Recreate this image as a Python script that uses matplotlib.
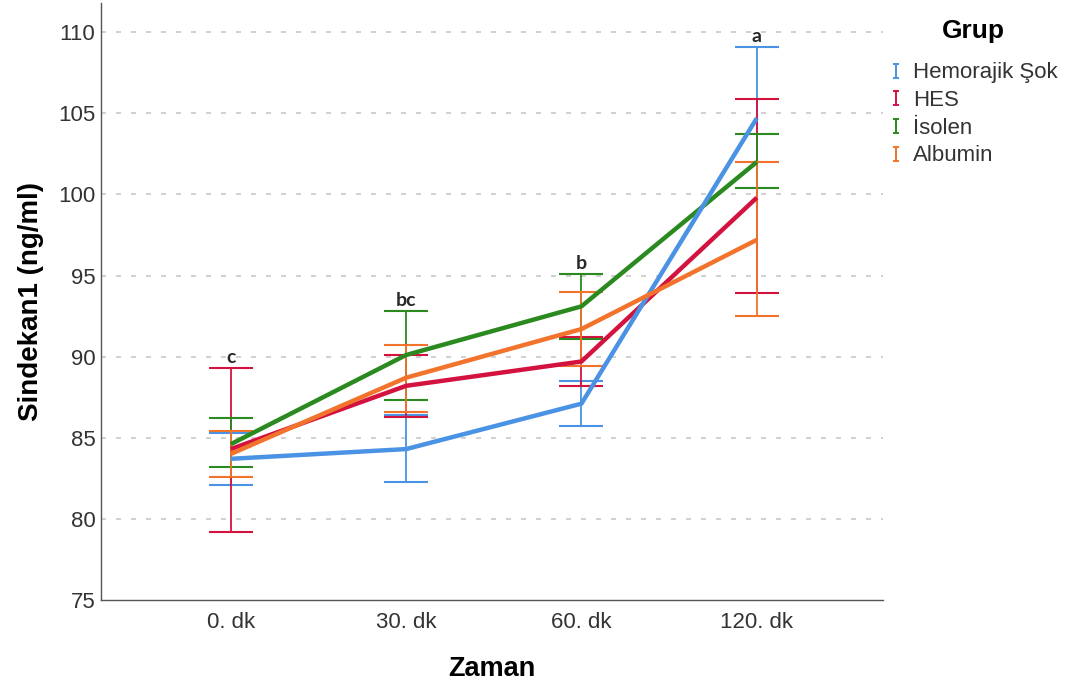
import matplotlib
matplotlib.use('Agg')
import matplotlib.pyplot as plt
from matplotlib.lines import Line2D
from matplotlib.path import Path
import numpy as np

# data
times = ['0. dk', '30. dk', '60. dk', '120. dk']
groups = ['Hemorajik Şok', 'HES', 'İsolen', 'Albumin']
colors = ['#4a92e4', '#d3123f', '#2b8a1f', '#f2732b']

sok_mean = [83.7, 84.3, 87.1, 104.7]
sok_low = [82.1, 82.3, 85.7, 100.4]
sok_high = [85.3, 86.4, 88.5, 109.1]

hes_mean = [84.3, 88.2, 89.7, 99.8]
hes_low = [79.2, 86.3, 88.2, 93.9]
hes_high = [89.3, 90.1, 91.2, 105.9]

iso_mean = [84.6, 90.1, 93.1, 102.0]
iso_low = [83.2, 87.3, 91.1, 100.4]
iso_high = [86.2, 92.8, 95.1, 103.7]

alb_mean = [84.0, 88.7, 91.7, 97.2]
alb_low = [82.6, 86.6, 89.4, 92.5]
alb_high = [85.4, 90.7, 94.0, 102.0]

letters = ['c', 'bc', 'b', 'a']

means = [sok_mean, hes_mean, iso_mean, alb_mean]
lows = [sok_low, hes_low, iso_low, alb_low]
highs = [sok_high, hes_high, iso_high, alb_high]

plt.rcParams['font.family'] = ['Liberation Sans', 'DejaVu Sans']

fig = plt.figure(figsize=(10.71, 6.88), dpi=100)
ax = fig.add_axes([0.0943, 0.128, 0.7302, 0.8676])

x = np.arange(len(times))
zorders = [5, 3, 4, 6]
for i, g in enumerate(groups):
    m = np.array(means[i])
    lo = np.array(lows[i])
    hi = np.array(highs[i])
    ax.errorbar(x, m, yerr=[m - lo, hi - m], fmt='none', ecolor=colors[i],
                elinewidth=1.3, capsize=15.5, capthick=1.5, zorder=2)
    ax.plot(x, m, color=colors[i], lw=3.2, zorder=zorders[i],
            solid_capstyle='butt')

# significance letters above the highest bar at each time
tops = np.max(np.array(highs), axis=0)
for xi, t, lab in zip(x, tops, letters):
    ax.annotate(lab, (xi, t), xytext=(0, 1.5), textcoords='offset points',
                ha='center', va='bottom', fontsize=14, fontweight='bold',
                color='#2a2a2a', family=['Lato', 'DejaVu Sans'])

ax.set_xlim(-0.74, 3.72)
ax.set_ylim(75, 111.8)
ax.set_yticks([75, 80, 85, 90, 95, 100, 105, 110])
ax.set_xticks(x)
ax.set_xticklabels(times)
ax.tick_params(length=0, labelsize=16, labelcolor='#333333', pad=9)
ax.tick_params(axis='y', pad=4)

for yv in [80, 85, 90, 95, 100, 105, 110]:
    ax.axhline(yv, color='#c8c8c8', lw=1.2, ls=(0, (3, 6)), zorder=0)

for s in ['top', 'right']:
    ax.spines[s].set_visible(False)
for s in ['left', 'bottom']:
    ax.spines[s].set_color('#555555')
    ax.spines[s].set_linewidth(1.0)

ax.set_ylabel('Sindekan1 (ng/ml)', fontsize=20, fontweight='bold', labelpad=10)
ax.set_xlabel('Zaman', fontsize=19.5, fontweight='bold', labelpad=16)

# "I" shaped legend keys like error bar symbols
ibar = Path([(-0.45, -1), (0.45, -1), (0, -1), (0, 1), (-0.45, 1), (0.45, 1)],
            [Path.MOVETO, Path.LINETO, Path.MOVETO, Path.LINETO,
             Path.MOVETO, Path.LINETO])
handles = [Line2D([], [], ls='none', marker=ibar, markersize=10,
                  markeredgewidth=1.4, markeredgecolor=c, markerfacecolor='none')
           for c in colors]

leg = ax.legend(handles, groups, loc='upper left', bbox_to_anchor=(0.982, 1.007),
                frameon=False, title='Grup', fontsize=16, handlelength=0.6,
                handletextpad=0.5, labelspacing=0.3)
leg.get_title().set_fontweight('bold')
leg.get_title().set_fontsize(19)
leg._legend_box.sep = 14
for t in leg.get_texts():
    t.set_color('#333333')

fig.savefig('out.png', dpi=100)
